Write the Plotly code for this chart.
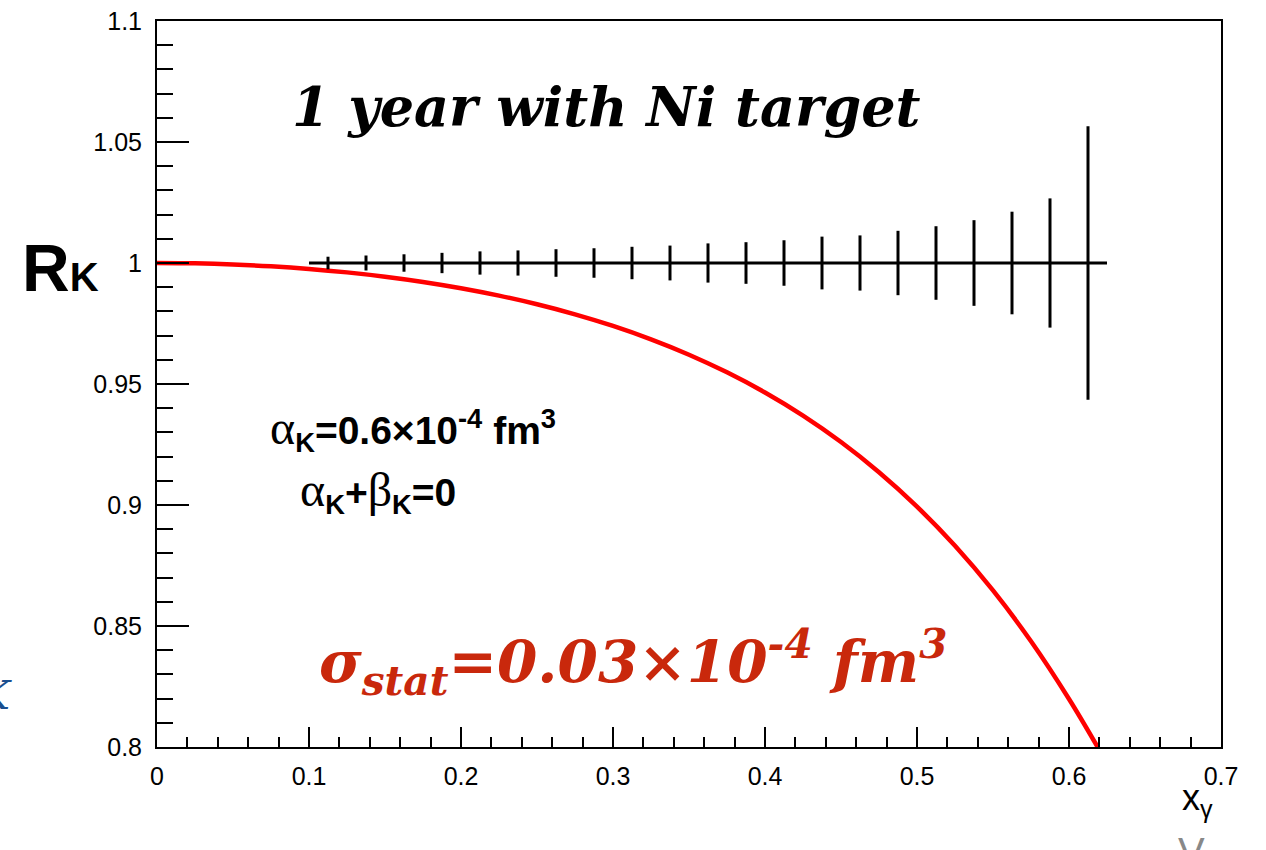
import plotly.graph_objects as go

# Binned measurement: ratio set to 1 with its statistical uncertainty
bin_centers = [0.1125, 0.1375, 0.1625, 0.1875, 0.2125, 0.2375, 0.2625, 0.2875,
               0.3125, 0.3375, 0.3625, 0.3875, 0.4125, 0.4375, 0.4625, 0.4875,
               0.5125, 0.5375, 0.5625, 0.5875, 0.6125]
ratio_values = [1.0] * 21
bin_half_width = [0.0125] * 21
stat_errors = [0.0026, 0.0031, 0.0036, 0.0042, 0.0048, 0.0052, 0.0057, 0.0061,
               0.0067, 0.0072, 0.0081, 0.0086, 0.0094, 0.0109, 0.0114, 0.0133,
               0.0152, 0.0177, 0.0212, 0.0267, 0.0565]

# Predicted ratio for alpha_K = 0.6e-4 fm^3, alpha_K + beta_K = 0
curve_x = [0.0, 0.025, 0.05, 0.075, 0.1, 0.125, 0.15, 0.175, 0.2, 0.225,
           0.25, 0.275, 0.3, 0.325, 0.35, 0.375, 0.4, 0.425, 0.45, 0.475,
           0.5, 0.525, 0.55, 0.575, 0.6, 0.619]
curve_r = [1.0, 0.99985, 0.9994, 0.99863, 0.99755, 0.99613, 0.99435, 0.99218,
           0.98958, 0.98652, 0.98295, 0.97879, 0.97399, 0.96846, 0.96211,
           0.95482, 0.94648, 0.93693, 0.92602, 0.91356, 0.89935, 0.88315,
           0.86469, 0.84371, 0.81985, 0.7998]

x_ticks = [0, 0.1, 0.2, 0.3, 0.4, 0.5, 0.6, 0.7]
y_ticks = [0.8, 0.85, 0.9, 0.95, 1.0, 1.05, 1.1]

fig = go.Figure()

fig.add_trace(go.Scatter(
    x=curve_x, y=curve_r, mode="lines",
    line=dict(color="#ff0000", width=4.5, shape="spline", smoothing=1.0),
    hoverinfo="skip", showlegend=False,
))

fig.add_trace(go.Scatter(
    x=bin_centers, y=ratio_values, mode="markers",
    marker=dict(size=1, color="black"),
    error_x=dict(type="data", array=bin_half_width, width=0, thickness=3, color="black"),
    error_y=dict(type="data", array=stat_errors, width=0, thickness=3, color="black"),
    showlegend=False,
))

tick_font = dict(family="Liberation Sans, Arial, sans-serif", size=25, color="black")

fig.update_xaxes(
    range=[0, 0.7], tickvals=x_ticks, ticktext=[f"{v:g}" for v in x_ticks],
    showline=True, linecolor="black", linewidth=2, mirror=True,
    ticks="inside", ticklen=20, tickwidth=2, tickcolor="black",
    minor=dict(ticks="inside", dtick=0.02, tick0=0, ticklen=10, tickwidth=2, tickcolor="black"),
    showgrid=False, zeroline=False, tickfont=tick_font, ticklabelstandoff=6,
    automargin=False,
)
fig.update_yaxes(
    range=[0.8, 1.1], tickvals=y_ticks, ticktext=[f"{v:g}" for v in y_ticks],
    showline=True, linecolor="black", linewidth=2, mirror=True,
    ticks="inside", ticklen=32, tickwidth=2, tickcolor="black",
    minor=dict(ticks="inside", dtick=0.01, tick0=0.8, ticklen=16, tickwidth=2, tickcolor="black"),
    showgrid=False, zeroline=False, tickfont=tick_font, ticklabelstandoff=8,
    automargin=False,
)

serif = "DejaVu Serif, Liberation Serif, serif"
sans = "Liberation Sans, Arial, sans-serif"
red_text = "#c9280c"
greek = "<span style='font-family:Liberation Serif;font-weight:normal;font-size:48px'>{}</span>"

annotations = [
    # headline
    dict(x=0.422, y=0.8815, xref="paper", yref="paper",
         text="<b><i>1 year with Ni target</i></b>",
         font=dict(family=serif, size=54, color="black"),
         xanchor="center", yanchor="middle", showarrow=False),
    # model parameters
    dict(x=0.104, y=0.437, xref="paper", yref="paper",
         text=greek.format("α") + "<b><sub>K</sub>=0.6×10<sup>-4</sup> fm<sup>3</sup></b>",
         font=dict(family=sans, size=39, color="black"),
         xanchor="left", yanchor="middle", showarrow=False),
    dict(x=0.1325, y=0.352, xref="paper", yref="paper",
         text=greek.format("α") + "<b><sub>K</sub>+</b>" + greek.format("β") + "<b><sub>K</sub>=0</b>",
         font=dict(family=sans, size=39, color="black"),
         xanchor="left", yanchor="middle", showarrow=False),
    # statistical precision
    dict(x=0.447, y=0.117, xref="paper", yref="paper",
         text="<b><i>σ<sub>stat</sub>=0.03×10<sup>-4</sup> fm<sup>3</sup></i></b>",
         font=dict(family=serif, size=58, color=red_text),
         xanchor="center", yanchor="middle", showarrow=False),
    # axis titles
    dict(x=-0.1288, y=0.66, xref="paper", yref="paper",
         text="<b>R<span style='font-size:40px'>K</span></b>",
         font=dict(family=sans, size=66, color="black"),
         xanchor="left", yanchor="middle", showarrow=False),
    dict(x=0.978, y=-0.073, xref="paper", yref="paper",
         text="x<sub>γ</sub>",
         font=dict(family=sans, size=36, color="black"),
         xanchor="center", yanchor="middle", showarrow=False),
    # neighbouring slide text at the edges
    dict(x=-0.152, y=0.072, xref="paper", yref="paper",
         text="<i>K</i>",
         font=dict(family=serif, size=40, color="#1a4f8f"),
         xanchor="center", yanchor="middle", showarrow=False),
    dict(x=0.972, y=-0.145, xref="paper", yref="paper",
         text="V",
         font=dict(family=sans, size=40, color="#888888"),
         xanchor="center", yanchor="middle", showarrow=False),
]

fig.update_layout(
    width=1266, height=850,
    margin=dict(l=157, r=45, t=21, b=103),
    paper_bgcolor="white", plot_bgcolor="white",
    annotations=annotations,
    showlegend=False,
)

fig.write_html("out.html")
